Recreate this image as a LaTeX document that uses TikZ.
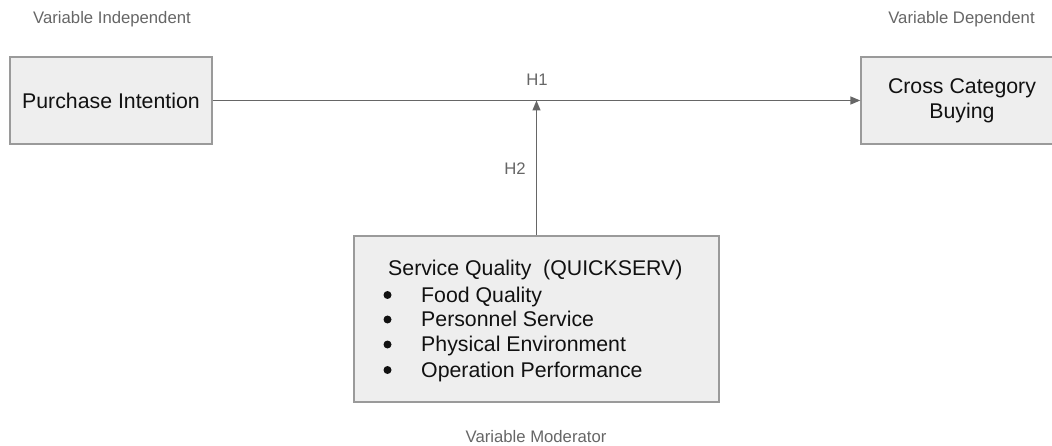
\documentclass[tikz,border=0pt]{standalone}
\usepackage{fontspec}
\setmainfont{Liberation Sans}
\usetikzlibrary{arrows.meta}
\definecolor{boxfill}{HTML}{EEEEEE}
\definecolor{boxline}{HTML}{9A9A9A}
\definecolor{wire}{HTML}{666666}
\definecolor{caption}{HTML}{666666}
\definecolor{ink}{HTML}{111111}
\tikzset{
  varbox/.style={draw=boxline, line width=1.3pt, fill=boxfill, inner sep=0pt,
    text=ink, font=\fontsize{21.3}{25}\selectfont, align=center},
  vartag/.style={text=caption, font=\fontsize{16.7}{19}\selectfont, inner sep=0pt},
  hyptag/.style={text=caption, font=\fontsize{16.7}{19}\selectfont, inner sep=0pt},
  itemtext/.style={text=ink, font=\fontsize{21.3}{25}\selectfont, inner sep=0pt, anchor=base west},
  itemdot/.style={circle, fill=ink, inner sep=0pt, minimum size=8pt},
  link/.style={draw=wire, line width=1.3pt, -{Triangle[length=10pt,width=8pt]}},
}
\begin{document}
\begin{tikzpicture}[x=1pt,y=-1pt]
\useasboundingbox (0,0) rectangle (1052,446);

% Variable boxes (the dependent one runs past the right margin)
\node[varbox, minimum width=202pt, minimum height=87pt] (pi) at (111,100.5) {Purchase Intention};
\node[varbox, minimum width=202pt, minimum height=87pt] (ccb) at (962,100.5) {Cross Category\\Buying};
\node[varbox, minimum width=365pt, minimum height=166pt] (sq) at (536.5,319) {};

% Moderator contents
\node[itemtext] (sqtitle) at (388,276) {Service Quality\ \ (QUICKSERV)};
\foreach \y/\txt [count=\i] in {302/Food Quality, 326.5/Personnel Service, 351.5/Physical Environment, 377/Operation Performance}{
  \node[itemdot] (bul\i) at (387.5,\y-7) {};
  \node[itemtext] (itm\i) at (421,\y) {\txt};
}

% Captions
\node[vartag] (capind) at (112,19) {Variable Independent};
\node[vartag] (capdep) at (961.5,19) {Variable Dependent};
\node[vartag] (capmod) at (536,437) {Variable Moderator};

% Connectors
\draw[link] (pi.east) -- (ccb.west);
\coordinate (hit) at (sq.north |- pi.east);
\draw[link] (sq.north) -- (hit);

\node[hyptag] (h1) at (537,79.5) {H1};
\node[hyptag] (h2) at (515,168.5) {H2};
\end{tikzpicture}
\end{document}
